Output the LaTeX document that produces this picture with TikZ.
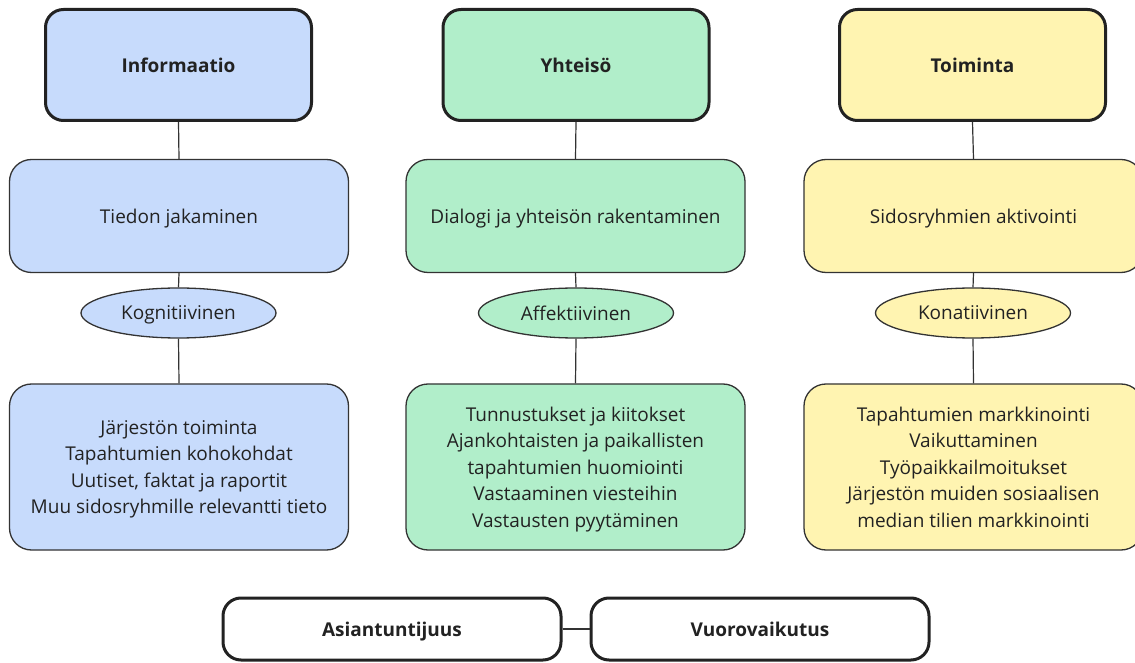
\documentclass[tikz,border=0pt]{standalone}
\usepackage{fontspec}
\setmainfont{Open Sans}
\usetikzlibrary{shapes.geometric}
\definecolor{cblue}{HTML}{C7DBFC}
\definecolor{cgreen}{HTML}{B1EECA}
\definecolor{cyellow}{HTML}{FFF4B1}
\definecolor{cline}{HTML}{333333}
\definecolor{ctext}{HTML}{222222}
\begin{document}
\begin{tikzpicture}[x=1pt,y=1pt,
  head/.style={draw=ctext, line width=3pt, rounded corners=18pt, minimum width=266pt, minimum height=111pt, inner sep=0pt, text depth=0pt, font=\bfseries\fontsize{19}{22}\selectfont, text=ctext},
  mid/.style={draw=cline, line width=1.3pt, rounded corners=22pt, minimum width=339pt, minimum height=113pt, inner sep=0pt, text depth=0pt, align=center, font=\fontsize{19}{26.5}\selectfont, text=ctext},
  low/.style={mid, minimum height=166pt},
  oval/.style={ellipse, draw=cline, line width=1.3pt, minimum width=195pt, minimum height=50pt, inner sep=0pt, text depth=0pt, font=\fontsize{19}{22}\selectfont, text=ctext},
  foot/.style={draw=ctext, line width=3pt, fill=white, rounded corners=18pt, minimum width=338pt, minimum height=62pt, inner sep=0pt, text depth=0pt, font=\bfseries\fontsize{19}{22}\selectfont, text=ctext},
  conn/.style={draw=cline, line width=1.2pt}]
\useasboundingbox (0,0) rectangle (1135,662);
% column 1
\node[head, fill=cblue] (h1) at (178.5,597) {Informaatio};
\node[mid, fill=cblue] (m1) at (179,446) {Tiedon jakaminen};
\node[oval, fill=cblue] (e1) at (178.5,349) {Kognitiivinen};
\node[low, fill=cblue] (b1) at (179,195) {Järjestön toiminta\\Tapahtumien kohokohdat\\Uutiset, faktat ja raportit\\Muu sidosryhmille relevantti tieto};
% column 2
\node[head, fill=cgreen] (h2) at (576,597) {Yhteisö};
\node[mid, fill=cgreen] (m2) at (575.5,446) {Dialogi ja yhteisön rakentaminen};
\node[oval, fill=cgreen] (e2) at (576,349) {Affektiivinen};
\node[low, fill=cgreen] (b2) at (575.5,195) {Tunnustukset ja kiitokset\\Ajankohtaisten ja paikallisten\\tapahtumien huomiointi\\Vastaaminen viesteihin\\Vastausten pyytäminen};
% column 3
\node[head, fill=cyellow] (h3) at (972.5,597) {Toiminta};
\node[mid, fill=cyellow] (m3) at (973.5,446) {Sidosryhmien aktivointi};
\node[oval, fill=cyellow] (e3) at (973,349) {Konatiivinen};
\node[low, fill=cyellow] (b3) at (973.5,195) {Tapahtumien markkinointi\\Vaikuttaminen\\Työpaikkailmoitukset\\Järjestön muiden sosiaalisen\\median tilien markkinointi};
% bottom
\node[foot] (f1) at (392,33) {Asiantuntijuus};
\node[foot] (f2) at (760,33) {Vuorovaikutus};
% connectors
\foreach \c in {1,2,3} {
  \draw[conn] (h\c.south) -- (m\c.north);
  \draw[conn] (m\c.south) -- (e\c.north);
  \draw[conn] (e\c.south) -- (b\c.north);
}
\draw[conn] (f1.east) -- (f2.west);
\end{tikzpicture}
\end{document}
